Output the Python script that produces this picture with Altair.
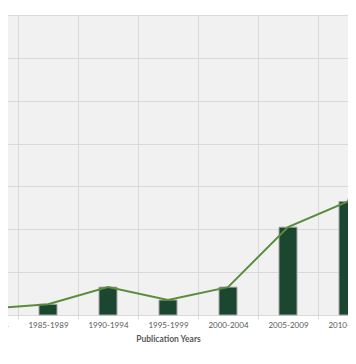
import altair as alt
import pandas as pd

periods = ["1975-1979", "1980-1984", "1985-1989", "1990-1994", "1995-1999",
           "2000-2004", "2005-2009", "2010-2014", "2015-2019"]
counts = [1, 3, 5, 13, 7, 13, 41, 53, 137]

df = pd.DataFrame({"period": periods, "count": counts})

FONT = "Lato"

x = alt.X(
    "period:N", sort=periods, title="Publication Years",
    scale=alt.Scale(paddingInner=0, paddingOuter=0),
    axis=alt.Axis(
        labelAngle=0, tickBand="extent", grid=True, gridColor="#d9d9d9", gridWidth=1,
        tickColor="#d9d9d9", tickSize=4, domainColor="#d9d9d9",
        labelFont=FONT, labelFontSize=8, labelColor="#595959", labelPadding=2,
        titleFont=FONT, titleFontSize=8.5, titleFontWeight="bold", titleColor="#595959",
        titlePadding=5,
    ),
)
y = alt.Y(
    "count:Q", scale=alt.Scale(domain=[0, 140], nice=False),
    axis=alt.Axis(values=[0, 20, 40, 60, 80, 100, 120, 140], grid=True, gridColor="#d9d9d9",
                  labels=False, ticks=False, domain=False, title=None),
)

bars = alt.Chart(df).mark_bar(size=18, color="#1b4630", stroke="#a6a6a6", strokeWidth=1).encode(x=x, y=y)
line = alt.Chart(df).mark_line(color="#5a8c3c", strokeWidth=2).encode(
    x=alt.X("period:N", sort=periods), y=alt.Y("count:Q"))

chart = alt.layer(bars, line).properties(
    width=540, height=300,
    autosize=alt.AutoSizeParams(type="none"),
    padding={"left": -110, "top": 7, "right": -90, "bottom": 33},
).configure_view(fill="#f1f1f1", stroke=None)

chart.save("out.html", embed_options={"renderer": "svg", "actions": False})
